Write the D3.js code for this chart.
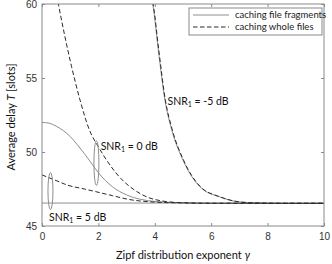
<!DOCTYPE html>
<html>
<head>
<meta charset="utf-8">
<script src="https://cdn.jsdelivr.net/npm/d3@7"></script>
<style>
  body { margin: 0; background: #fff; }
  text { font-family: Lato, "Open Sans", sans-serif; }
  .tick text { font-family: "Liberation Sans", Arial, sans-serif; }
</style>
</head>
<body>
<div id="chart"></div>
<script>
var xTicks = [0, 2, 4, 6, 8, 10];
var yTicks = [45, 50, 55, 60];

// gamma, T pairs
var frag_m5 = [[3.85, 60.6], [3.925, 60], [4.124, 56.9], [4.36, 53.5], [4.6, 51.5], [5.0, 49.45], [5.6, 47.65], [6.31, 46.96], [7.02, 46.62], [7.73, 46.55], [8.5, 46.52], [10, 46.52]];
var whole_m5 = [[3.87, 60.6], [3.94, 60], [4.14, 56.9], [4.375, 53.5], [4.62, 51.5], [5.02, 49.45], [5.62, 47.65], [6.33, 46.96], [7.04, 46.62], [7.75, 46.55], [8.5, 46.53], [10, 46.53]];
var frag_0 = [[0, 52.0], [0.25, 51.95], [0.5, 51.75], [0.75, 51.45], [1.0, 51.05], [1.25, 50.5], [1.5, 49.9], [1.75, 49.25], [2.0, 48.6], [2.5, 47.65], [3.0, 47.1], [3.5, 46.8], [4.0, 46.66], [5.0, 46.56], [6.0, 46.53], [10, 46.53]];
var whole_0 = [[0.52, 60.6], [0.58, 60], [1.05, 55.76], [1.35, 53.5], [1.68, 51.49], [2.0, 50.35], [2.41, 49.12], [2.8, 48.2], [3.23, 47.5], [3.94, 46.82], [4.89, 46.58], [6.0, 46.54], [10, 46.53]];
var frag_5 = [[0, 46.55], [10, 46.55]];
var whole_5 = [[0, 48.45], [0.5, 48.07], [0.89, 47.77], [1.5, 47.5], [1.95, 47.3], [2.5, 47.05], [3.01, 46.82], [3.94, 46.62], [5.0, 46.56], [6.0, 46.54], [10, 46.54]];

var legendLabels = ["caching file fragments", "caching whole files"];

var W = 332, H = 264;
var m = {left: 42, right: 8, top: 4, bottom: 38};

var svg = d3.select("#chart")
    .append("svg")
      .attr("width", W)
      .attr("height", H);

var x = d3.scaleLinear().domain([0, 10]).range([m.left, W - m.right]);
var y = d3.scaleLinear().domain([45, 60]).range([H - m.bottom, m.top]);

svg.append("defs").append("clipPath")
    .attr("id", "clip")
  .append("rect")
    .attr("x", x(0))
    .attr("y", y(60))
    .attr("width", x(10) - x(0))
    .attr("height", y(45) - y(60));

var line = d3.line()
    .x(function(d) { return x(d[0]); })
    .y(function(d) { return y(d[1]); })
    .curve(d3.curveMonotoneX);

var plot = svg.append("g").attr("clip-path", "url(#clip)");

function solid(data) {
  plot.append("path")
      .attr("d", line(data))
      .attr("fill", "none")
      .attr("stroke", "#8e8e8e")
      .attr("stroke-width", 1);
}
function dashed(data) {
  plot.append("path")
      .attr("d", line(data))
      .attr("fill", "none")
      .attr("stroke", "#2a2a2a")
      .attr("stroke-width", 1)
      .attr("stroke-dasharray", "4.5,2.5");
}

solid(frag_5);
solid(frag_0);
solid(frag_m5);
dashed(whole_5);
dashed(whole_0);
dashed(whole_m5);

// ellipses grouping curve pairs
var ellipses = [[1.93, 49.25, 2.5, 1.5], [0.3, 47.36, 2.5, 1.25]];
svg.selectAll(".ell")
  .data(ellipses)
  .enter().append("ellipse")
    .attr("cx", function(d) { return x(d[0]); })
    .attr("cy", function(d) { return y(d[1]); })
    .attr("rx", function(d) { return d[2]; })
    .attr("ry", function(d) { return y(45) - y(45 + d[3]); })
    .attr("fill", "none")
    .attr("stroke", "#8e8e8e")
    .attr("stroke-width", 1);

// axes, box style with inward ticks
var axisColor = "#8a8a8a";
function styleAxis(g, labels) {
  g.select(".domain").remove();
  g.selectAll(".tick line").attr("stroke", axisColor);
  g.selectAll(".tick text")
      .attr("fill", "#333")
      .style("font-size", labels ? "10px" : "0px");
}

svg.append("g")
    .attr("transform", "translate(0," + y(45) + ")")
    .call(d3.axisBottom(x).tickValues(xTicks).tickSize(-3).tickPadding(7))
    .call(styleAxis, true);
svg.append("g")
    .attr("transform", "translate(0," + y(60) + ")")
    .call(d3.axisTop(x).tickValues(xTicks).tickSize(-3).tickFormat(""))
    .call(styleAxis, false);
svg.append("g")
    .attr("transform", "translate(" + x(0) + ",0)")
    .call(d3.axisLeft(y).tickValues(yTicks).tickSize(-3).tickPadding(5))
    .call(styleAxis, true);
svg.append("g")
    .attr("transform", "translate(" + x(10) + ",0)")
    .call(d3.axisRight(y).tickValues(yTicks).tickSize(-3).tickFormat(""))
    .call(styleAxis, false);

svg.append("rect")
    .attr("x", x(0))
    .attr("y", y(60))
    .attr("width", x(10) - x(0))
    .attr("height", y(45) - y(60))
    .attr("fill", "none")
    .attr("stroke", axisColor)
    .attr("stroke-width", 1);

// axis titles
var xt = svg.append("text")
    .attr("x", (x(0) + x(10)) / 2)
    .attr("y", 259)
    .attr("text-anchor", "middle")
    .style("font-size", "11px")
    .attr("fill", "#111");
xt.append("tspan").text("Zipf distribution exponent ");
xt.append("tspan").style("font-style", "italic").text("γ");

var yt = svg.append("text")
    .attr("transform", "translate(15," + (y(52.5) + 2) + ") rotate(-90)")
    .attr("text-anchor", "middle")
    .style("font-size", "11px")
    .attr("fill", "#111");
yt.append("tspan").text("Average delay ");
yt.append("tspan").style("font-style", "italic").text("T");
yt.append("tspan").text(" [slots]");

// SNR labels
var snrLabels = [
  {v: "-5", gx: 4.45, ty: 53.2},
  {v: "0", gx: 2.08, ty: 50.15},
  {v: "5", gx: 0.25, ty: 45.35}
];
snrLabels.forEach(function(d) {
  var t = svg.append("text")
      .attr("x", x(d.gx))
      .attr("y", y(d.ty))
      .style("font-size", "10.5px")
      .attr("fill", "#111");
  t.append("tspan").text("SNR");
  t.append("tspan").attr("dy", 2.5).style("font-size", "7px").text("1");
  t.append("tspan").attr("dy", -2.5).text(" = " + d.v + " dB");
});

// legend
var lg = svg.append("g").attr("transform", "translate(189,8)");
lg.append("rect")
    .attr("width", 133)
    .attr("height", 27)
    .attr("fill", "#fff")
    .attr("stroke", axisColor)
    .attr("stroke-width", 1);
legendLabels.forEach(function(l, i) {
  lg.append("line")
      .attr("x1", 4).attr("x2", 40)
      .attr("y1", 7 + i * 12).attr("y2", 7 + i * 12)
      .attr("stroke", i == 0 ? "#8e8e8e" : "#2a2a2a")
      .attr("stroke-width", 1)
      .attr("stroke-dasharray", i == 0 ? null : "4.5,2.5");
  lg.append("text")
      .attr("x", 46)
      .attr("y", 10 + i * 12)
      .style("font-size", "9.5px")
      .attr("fill", "#222")
      .text(l);
});
</script>
</body>
</html>
